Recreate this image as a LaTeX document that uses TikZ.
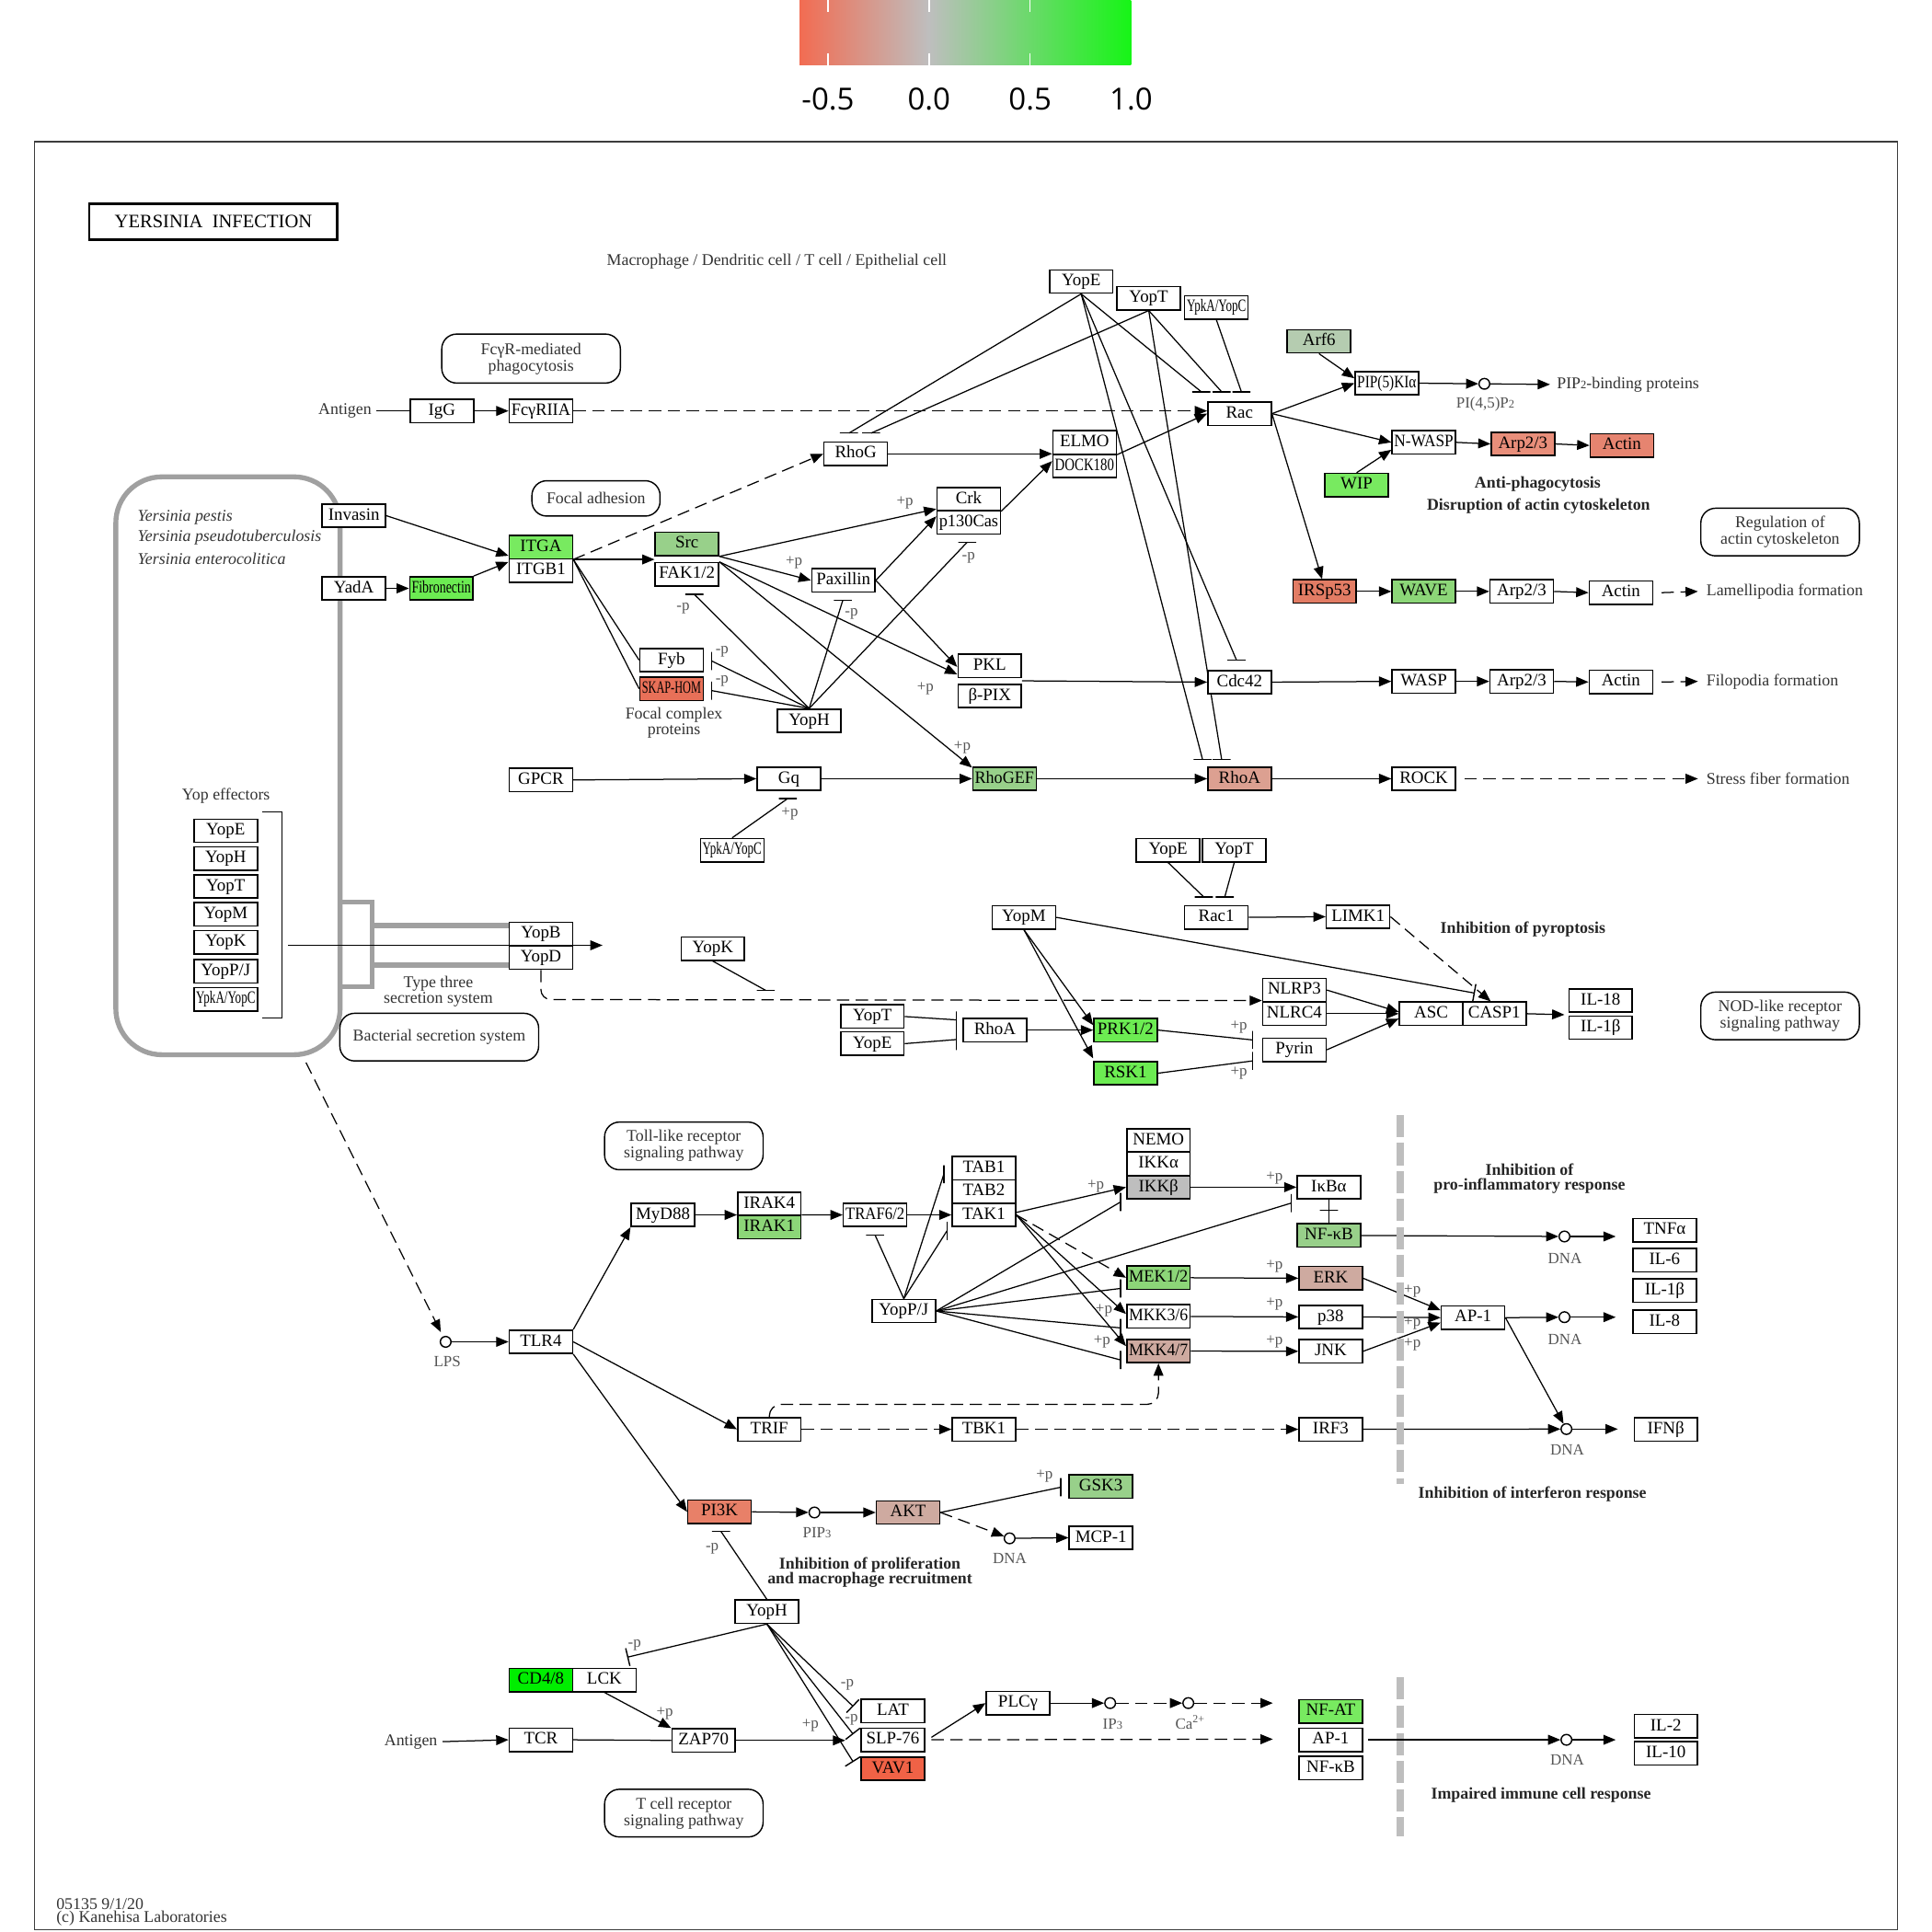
\documentclass[tikz,border=0pt]{standalone}
\usepackage{fontspec}
\setmainfont{Liberation Serif}
\newfontfamily\cbfont{Open Sans}
\usepackage{graphicx}
\usetikzlibrary{arrows.meta,calc}

% colour scale and node fills
\definecolor{cbLow}{RGB}{242,108,82}
\definecolor{cbMid}{RGB}{190,190,190}
\definecolor{cbHigh}{RGB}{22,245,22}
\definecolor{cSkap}{RGB}{232,112,88}
\definecolor{cVav}{RGB}{240,98,70}
\definecolor{cPi3k}{RGB}{232,128,104}
\definecolor{cIrs}{RGB}{226,124,100}
\definecolor{cArp}{RGB}{232,142,122}
\definecolor{cActin}{RGB}{230,132,112}
\definecolor{cRhoA}{RGB}{220,160,145}
\definecolor{cBrown}{RGB}{206,170,160}
\definecolor{cGrey}{RGB}{190,190,190}
\definecolor{cArf}{RGB}{181,204,176}
\definecolor{cMid}{RGB}{152,208,138}
\definecolor{cWave}{RGB}{140,214,120}
\definecolor{cLime}{RGB}{120,234,96}
\definecolor{cLime2}{RGB}{108,236,82}
\definecolor{cBright}{RGB}{0,238,0}
\definecolor{frameC}{RGB}{60,60,60}
\definecolor{shellC}{RGB}{160,160,160}
\definecolor{noteC}{RGB}{85,85,85}
\definecolor{sepC}{RGB}{190,190,190}

% squeeze long labels into the fixed-width gene boxes
\newsavebox\labbox
\newcommand\fitlab[1]{\sbox\labbox{#1}\ifdim\wd\labbox>36pt\resizebox{36pt}{\ht\labbox}{\usebox\labbox}\else\usebox\labbox\fi}
\newcommand\gene[4][white]{\node[gbox,fill=#1] (#2) at (#3) {\fitlab{#4}};}
\newcommand\smalldig[1]{{\fontsize{7}{7}\selectfont #1}}

\tikzset{
  gbox/.style={draw,line width=0.85pt,minimum width=38.6pt,minimum height=14.2pt,inner sep=0pt,
    text height=7.4pt,text depth=2.2pt,font=\fontsize{10.6}{10.6}\selectfont},
  mapbox/.style={draw,line width=0.8pt,rounded corners=9pt,align=center,inner sep=0pt,
    font=\fontsize{10}{9}\selectfont,text=black!80},
  cmpd/.style={circle,draw,line width=0.8pt,minimum size=6.5pt,inner sep=0pt,fill=white},
  ln/.style={line width=0.7pt},
  arr/.style={line width=0.7pt,-{Triangle[length=7.5pt,width=6pt]}},
  inh/.style={line width=0.7pt,-{Bar[width=11pt,line width=0.8pt]}},
  dsh/.style={dash pattern=on 7.5pt off 4pt},
  hbar/.style={draw,line width=0.8pt,minimum width=11pt,minimum height=0pt,inner sep=0pt},
  vbar/.style={draw,line width=0.8pt,minimum width=0pt,minimum height=11pt,inner sep=0pt},
  note/.style={font=\fontsize{9.5}{9.5}\selectfont,text=noteC,inner sep=0pt},
  lab/.style={font=\fontsize{10}{10}\selectfont,text=black!80,inner sep=0pt},
  head/.style={font=\bfseries\fontsize{10}{9.2}\selectfont,text=black!85,align=center,inner sep=0pt},
  sep/.style={sepC,line width=4.5pt,dash pattern=on 13.5pt off 3.5pt},
  shell/.style={shellC,line width=3pt},
}

\begin{document}
\begin{tikzpicture}[x=0.75pt,y=-0.75pt]
\useasboundingbox (0,0) rectangle (1568,1568);

% ---------------- colour scale ----------------
\shade[left color=cbLow,right color=cbMid] (649,0) rectangle (754,53);
\shade[left color=cbMid,right color=cbHigh] (754,0) rectangle (918,53);
\foreach \t in {672,754,836} {\draw[white,line width=0.8pt] (\t,0) -- (\t,10) (\t,43) -- (\t,53);}
\foreach \t/\v/\n in {672/-0.5/a,754/0.0/b,836/0.5/c,918/1.0/d}
  {\node[font=\cbfont\fontsize{18.5}{18.5}\selectfont,inner sep=0pt] (scale\n) at (\t,80.5) {\v};}

% ---------------- frame and title ----------------
\draw[line width=0.9pt,frameC] (28,115) rectangle (1540,1566);
\node[draw,line width=1.5pt,minimum width=151pt,minimum height=22pt,inner sep=0pt,
  font=\fontsize{11.5}{11.5}\selectfont] (title) at (173.2,180) {YERSINIA\ \ INFECTION};
\node[lab] (celltype) at (630.5,212) {Macrophage / Dendritic cell / T cell / Epithelial cell};

% ---------------- bacterium and effectors ----------------
\draw[shell,rounded corners=28pt] (94,387) rectangle (276,856);
\draw[shell] (276,732) -- (302,732) -- (302,801) -- (276,801);
\draw[shell] (302,751.2) -- (413,751.2);
\draw[shell] (302,783.2) -- (413,783.2);
\node[lab,anchor=west,font=\itshape\fontsize{10}{10}\selectfont] (sp1) at (111.5,419.7) {Yersinia pestis};
\node[lab,anchor=west,font=\itshape\fontsize{10}{10}\selectfont] (sp2) at (111.5,436.5) {Yersinia pseudotuberculosis};
\node[lab,anchor=west,font=\itshape\fontsize{10}{10}\selectfont] (sp3) at (111.5,453.3) {Yersinia enterocolitica};
\node[lab] (yopeff) at (183.4,646) {Yop effectors};
\gene{efE}{183.2,674.2}{YopE}
\gene{efH}{183.2,696.8}{YopH}
\gene{efT}{183.2,719.4}{YopT}
\gene{efM}{183.2,742}{YopM}
\gene{efK}{183.2,764.8}{YopK}
\gene{efP}{183.2,788.2}{YopP/J}
\gene{efY}{183.2,811}{YpkA/YopC}
\draw[ln] (213,659.2) -- (229,659.2) -- (229,826.4) -- (213,826.4);
\gene{yopb}{439,758.1}{YopB}
\gene{yopd}{439,777.2}{YopD}
\coordinate (effFrom) at (234,767.2);
\coordinate (effTo) at (489,767.2);
\draw[arr] (effFrom) -- (effTo);
\node[lab,align=center,font=\fontsize{10}{9.5}\selectfont] (t3ss) at (355.7,804.5) {Type three\\secretion system};
\node[mapbox,minimum width=121pt,minimum height=29pt] (bssmap) at (356.5,841.7) {Bacterial secretion system};

% ---------------- Fc receptor / Rac branch ----------------
\node[mapbox,minimum width=108.7pt,minimum height=29.8pt] (fcgrmap) at (431,291) {FcγR-mediated\\phagocytosis};
\node[lab,inner xsep=3pt] (antigenA) at (280,333.5) {Antigen};
\gene{igg}{358.7,333.5}{IgG}
\gene{fcgr}{439,333.5}{FcγRIIA}
\gene{yopeA}{877.5,228.5}{YopE}
\gene{yoptA}{932.3,242}{YopT}
\gene{ypkaA}{987.2,249.5}{YpkA/YopC}
\gene{rac}{1006,335.7}{Rac}
\gene{rhog}{694.5,368.3}{RhoG}
\gene{elmo}{880.2,359}{ELMO}
\gene{dock}{880.2,378.2}{DOCK180}
\gene{crk}{786.2,405}{Crk}
\gene{p130}{786.2,424}{p130Cas}
\gene[cArf]{arf6}{1070.5,277}{Arf6}
\gene{pip5k}{1125.5,311}{PIP(5)KIα}
\node[cmpd] (pip2) at (1204.7,311.5) {};
\node[note] (pip2lab) at (1205.5,328) {PI(4,5)P\smalldig{2}};
\node[lab,anchor=west,inner xsep=4pt] (pipbind) at (1258,312) {PIP\smalldig{2}-binding proteins};
\gene{nwasp}{1155.5,359}{N-WASP}
\gene[cArp]{arp23a}{1236,360.3}{Arp2/3}
\gene[cActin]{actinA}{1316.3,361.5}{Actin}
\gene[cLime]{wip}{1101,393.7}{WIP}
\node[head] (antiph) at (1248,393) {Anti-phagocytosis};
\node[head] (disrupt) at (1248.7,410.7) {Disruption of actin cytoskeleton};
\node[mapbox,minimum width=96.5pt,minimum height=29pt] (regact) at (1444.7,431.8) {Regulation of\\actin cytoskeleton};

\node[hbar] (bRhoG1) at (689,351.5) {};
\node[hbar] (bRhoG2) at (707,351.5) {};
\node[hbar] (bRac1) at (975,318) {};
\node[hbar] (bRac2) at (991.5,318) {};
\node[hbar] (bRac3) at (1007.5,318) {};
\node[hbar] (bCdc) at (1003.5,535.7) {};
\node[hbar] (bRhoA1) at (976,616.5) {};
\node[hbar] (bRhoA2) at (991.5,616.5) {};

\draw[ln] (antigenA.east) -- (igg.west);
\draw[arr] (igg.east) -- (fcgr.west);
\draw[arr,dsh] (fcgr.east) -- (fcgr.east -| rac.west);
\draw[ln] (yopeA.south) -- (bRhoG1.center);
\draw[ln] (yoptA.south) -- (bRhoG2.center);
\draw[ln] (yopeA.south) -- (bRac1.center);
\draw[ln] (yoptA.south) -- (bRac2.center);
\draw[ln] (ypkaA.south) -- (bRac3.center);
\draw[ln] (yopeA.south) -- (bRhoA1.center);
\draw[ln] (yopeA.south) -- (bCdc.center);
\draw[ln] (yoptA.south) -- (bRhoA2.center);
\draw[arr] (rhog.east) -- (rhog.east -| elmo.west);
\draw[arr] (crk.south east) -- ($(dock.west)+(0,-4)$);
\draw[arr] (elmo.south east) -- (rac.west);
\draw[arr] (rac.east) -- (pip5k.west);
\draw[arr] (arf6.south) -- ($(pip5k.west)+(0,-4)$);
\draw[arr] (pip5k.east) -- (pip2);
\draw[arr] (pip2) -- (pipbind.west);
\draw[arr] (rac.east) -- (nwasp.west);
\draw[arr] (wip.north) -- ($(nwasp.south west)+(0,-4)$);
\draw[arr] (nwasp.east) -- (arp23a.west);
\draw[arr] (arp23a.east) -- (actinA.west);

% ---------------- actin outputs ----------------
\gene[cIrs]{irsp53}{1075,480}{IRSp53}
\gene[cWave]{wave}{1155.5,480}{WAVE}
\gene{arp23b}{1235,480}{Arp2/3}
\gene{actinB}{1315.5,481}{Actin}
\node[lab,anchor=west,inner xsep=5pt] (lamel) at (1378,480) {Lamellipodia formation};
\draw[arr] (rac.east) -- ($(irsp53.north)+(-2,0)$);
\draw[arr] (irsp53.east) -- (wave.west);
\draw[arr] (wave.east) -- (arp23b.west);
\draw[arr] (arp23b.east) -- (actinB.west);
\draw[arr,dsh] ([xshift=5pt]actinB.east) -- (lamel.west);

\gene{pkl}{803.2,540.3}{PKL}
\gene{bpix}{803.2,564.8}{β-PIX}
\gene{cdc42}{1006,553.6}{Cdc42}
\gene{wasp}{1155.5,553}{WASP}
\gene{arp23c}{1235,553}{Arp2/3}
\gene{actinC}{1315.5,553.5}{Actin}
\node[lab,anchor=west,inner xsep=5pt] (filo) at (1378,553) {Filopodia formation};
\draw[arr] ($(pkl.south east)!0.5!(bpix.north east)$) -- (cdc42.west);
\draw[arr] (cdc42.east) -- (wasp.west);
\draw[arr] (wasp.east) -- (arp23c.west);
\draw[arr] (arp23c.east) -- (actinC.west);
\draw[arr,dsh] ([xshift=5pt]actinC.east) -- (filo.west);

\gene{gpcr}{439,633}{GPCR}
\gene{gq}{640.2,632}{Gq}
\gene[cMid]{rhogef}{815.2,632}{RhoGEF}
\gene[cRhoA]{rhoa}{1006,632}{RhoA}
\gene{rock}{1155.5,632}{ROCK}
\node[lab,anchor=west,inner xsep=5pt] (stress) at (1378,632) {Stress fiber formation};
\draw[arr] (gpcr.east) -- (gq.west);
\draw[arr] (gq.east) -- (rhogef.west);
\draw[arr] (rhogef.east) -- (rhoa.west);
\draw[arr] (rhoa.east) -- (rock.west);
\draw[arr,dsh] ([xshift=5pt]rock.east) -- (stress.west);
\gene{ypkaB}{594.2,690}{YpkA/YopC}
\node[hbar] (bGq) at (639.4,648) {};
\draw[ln] (ypkaB.north) -- (bGq.center);
\node[note] (pGq) at (641,660.6) {+p};

% ---------------- focal adhesion ----------------
\node[mapbox,minimum width=78pt,minimum height=21.5pt] (focadh) at (483.7,404.5) {Focal adhesion};
\gene{invasin}{287.2,418.5}{Invasin}
\gene{yada}{287.2,477.5}{YadA}
\gene[cLime2]{fibro}{358.2,477.5}{Fibronectin}
\gene[cLime]{itga}{439,444}{ITGA}
\gene{itgb1}{439,463}{ITGB1}
\gene[cMid]{src}{557.5,441.5}{Src}
\gene{fak}{557.5,466}{FAK1/2}
\gene{paxillin}{684.5,471}{Paxillin}
\gene{fyb}{545,535.7}{Fyb}
\gene[cSkap]{skap}{545,559}{SKAP-HOM}
\node[lab,align=center,font=\fontsize{10}{9.5}\selectfont] (fcp) at (547,586.5) {Focal complex\\proteins};
\gene{yophA}{656.7,585}{YopH}

\draw[arr] (invasin.east) -- ($(itga.south west)+(0,-3)$);
\draw[arr] (yada.east) -- (fibro.west);
\draw[arr] (fibro.north east) -- ($(itga.south west)+(0,2)$);
\draw[arr] (itga.south east) -- (itga.south east -| src.west);
\draw[arr,dsh] (itga.south east) -- (rhog.west);
\draw[ln] (itga.south east) -- (fyb.west);
\draw[ln] (itga.south east) -- (skap.west);
\draw[arr] (src.south east) -- ($(crk.south west)+(0,-2)$);
\draw[arr] (src.south east) -- (paxillin.west);
\draw[arr] (paxillin.east) -- ($(crk.south west)+(0,4)$);
\draw[arr] (fak.north east) -- ($(pkl.west)+(0,7)$);
\draw[arr] (paxillin.east) -- ($(pkl.west)+(0,1)$);
\draw[arr] (fak.north east) -- ($(rhogef.north west)+(0,1)$);

\node[hbar] (bFak) at (563.5,482.4) {};
\node[hbar] (bPax) at (684,487.2) {};
\node[hbar] (bP130) at (785,440) {};
\node[vbar] (bFyb) at (577.7,536.5) {};
\node[vbar] (bSkap) at (577.7,560.5) {};
\draw[ln] (yophA.north) -- (bFak.center);
\draw[ln] (yophA.north) -- (bPax.center);
\draw[ln] (yophA.north) -- (bP130.center);
\draw[ln] (yophA.north) -- (bFyb.center);
\draw[ln] (yophA.north) -- (bSkap.center);

\node[note] (pCrk) at (734.4,408) {+p};
\node[note] (pPax) at (644.4,456.5) {+p};
\node[note] (pPkl) at (751,559) {+p};
\node[note] (pGef) at (781,606.5) {+p};
\node[note] (mFak) at (554.4,494) {-p};
\node[note] (mPax) at (691,498) {-p};
\node[note] (mP130) at (786,452.5) {-p};
\node[note] (mFyb) at (586,528.5) {-p};
\node[note] (mSkap) at (586,553) {-p};

% ---------------- pyroptosis ----------------
\gene{yopeB}{948,690}{YopE}
\gene{yoptB}{1001.7,690}{YopT}
\gene{rac1}{987.2,744.5}{Rac1}
\gene{limk1}{1102.2,744}{LIMK1}
\node[hbar] (bRac1a) at (977,728) {};
\node[hbar] (bRac1b) at (994,728) {};
\draw[ln] (yopeB.south) -- (bRac1a.center);
\draw[ln] (yoptB.south) -- (bRac1b.center);
\draw[arr] (rac1.east) -- (limk1.west);
\node[head] (pyro) at (1236,754) {Inhibition of pyroptosis};
\gene{yopm}{831,744.5}{YopM}
\gene{yopk}{578.5,770}{YopK}
\node[hbar] (bYopK) at (621.5,803.8) {};
\draw[ln] (yopk.south) -- (bYopK.center);

\gene{nlrp3}{1050.5,803.5}{NLRP3}
\gene{nlrc4}{1050.5,822.7}{NLRC4}
\gene{pyrin}{1050.5,852}{Pyrin}
\gene{asc}{1161.5,822.7}{ASC}
\gene{casp1}{1212.8,822.7}{CASP1}
\gene{il18}{1299,812}{IL-18}
\gene{ilbA}{1299,834}{IL-1β}
\node[mapbox,minimum width=96.5pt,minimum height=29pt] (nodmap) at (1444.7,824.5) {NOD-like receptor\\signaling pathway};
\draw[arr,dsh,rounded corners=6pt] (yopd.south) -- (yopd.south |- 0,811.2) -- ($(nlrp3.south west)+(0,-1.5)$);
\draw[arr] (nlrp3.east) -- ($(asc.west)+(0,-1.5)$);
\draw[arr] (nlrc4.east) -- (asc.west);
\draw[arr] (pyrin.east) -- ($(asc.west)+(0,4)$);
\draw[arr] (casp1.east) -- ($(il18.south west)+(-3,1.5)$);
\draw[arr,dsh] (limk1.east) -- ($(casp1.north)+(-3,0)$);
\coordinate (yopmEnd) at (1197,806);
\draw[inh] (yopm.east) -- (yopmEnd);

\gene{yoptC}{708,825}{YopT}
\gene{yopeC}{708,847}{YopE}
\gene{rhoaB}{807.5,836}{RhoA}
\node[vbar,minimum height=23.5pt] (bRhoAB) at (776,836.6) {};
\coordinate (bRhoABt) at (776,827.7);
\coordinate (bRhoABe) at (776,843.7);
\draw[ln] (yoptC.east) -- (bRhoABt);
\draw[ln] (yopeC.east) -- (bRhoABe);
\gene[cLime2]{prk}{913.5,836}{PRK1/2}
\gene[cLime2]{rsk1}{913.5,871}{RSK1}
\draw[arr] (rhoaB.east) -- (prk.west);
\draw[arr] (yopm.south) -- ($(prk.west)+(0,-4)$);
\draw[arr] (yopm.south) -- ($(rsk1.north west)+(0,-2)$);
\node[vbar] (bPy1) at (1016.7,844) {};
\node[vbar] (bPy2) at (1016.7,861) {};
\draw[ln] (prk.east) -- (bPy1.center);
\draw[ln] (rsk1.east) -- (bPy2.center);
\node[note] (pPrk) at (1005.4,834) {+p};
\node[note] (pRsk) at (1005.4,871) {+p};

% ---------------- Toll-like receptor branch ----------------
\coordinate (shellOut) at (248.4,862.4);
\node[cmpd] (lps) at (361.7,1089) {};
\node[note] (lpslab) at (363,1105) {LPS};
\gene{tlr4}{439,1089}{TLR4}
\draw[arr,dsh,shorten >=3pt] (shellOut) -- (lps);
\draw[arr] (lps) -- (tlr4.west);
\node[mapbox,minimum width=96.5pt,minimum height=29pt] (tlrmap) at (555,930) {Toll-like receptor\\signaling pathway};

\gene{myd88}{538,986}{MyD88}
\gene{irak4}{624.4,977}{IRAK4}
\gene[cWave]{irak1}{624.4,996}{IRAK1}
\gene{traf6}{710.2,986}{TRAF6/2}
\gene{tab1}{798.5,948}{TAB1}
\gene{tab2}{798.5,967}{TAB2}
\gene{tak1}{798.5,986}{TAK1}
\gene{nemo}{940.2,925.5}{NEMO}
\gene{ikka}{940.2,944.5}{IKKα}
\gene[cGrey]{ikkb}{940.2,963.5}{IKKβ}
\gene{ikba}{1078.5,963.5}{IκBα}
\gene[cMid]{nfkbA}{1078.5,1002.7}{NF-κB}
\gene[cWave]{mek}{940.2,1037}{MEK1/2}
\gene{mkk36}{940.2,1068.4}{MKK3/6}
\gene[cBrown]{mkk47}{940.2,1096.5}{MKK4/7}
\gene[cBrown]{erk}{1080,1037.4}{ERK}
\gene{p38}{1080,1068.8}{p38}
\gene{jnk}{1080,1096.7}{JNK}
\gene{ap1A}{1195.5,1069.4}{AP-1}
\gene{yoppj}{733.5,1064}{YopP/J}
\gene{tnfa}{1351,998.4}{TNFα}
\gene{il6}{1351,1022.8}{IL-6}
\gene{ilbB}{1351,1047.5}{IL-1β}
\gene{il8}{1351,1072.8}{IL-8}
\node[cmpd] (dnaA) at (1269.7,1003.5) {};
\node[cmpd] (dnaB) at (1269.7,1069) {};
\node[cmpd] (dnaC) at (1271.3,1159.8) {};
\node[note] (dnaAlab) at (1270,1021) {DNA};
\node[note] (dnaBlab) at (1270,1087) {DNA};
\node[note] (dnaClab) at (1272,1177) {DNA};
\coordinate (outA) at (1311.3,1003.5);
\coordinate (outB) at (1311.3,1069);
\coordinate (outC) at (1313,1159.8);
\gene{trif}{624.4,1160}{TRIF}
\gene{tbk1}{798.5,1160}{TBK1}
\gene{irf3}{1080,1160}{IRF3}
\gene{ifnb}{1352,1160}{IFNβ}

\draw[arr] (tlr4.north east) -- (myd88.south west);
\draw[arr] (tlr4.east) -- (trif.west);
\draw[arr] (myd88.east) -- (myd88.east -| irak4.west);
\draw[arr] (irak1.north east) -- (traf6.west);
\draw[arr] (traf6.east) -- (tak1.west);
\node[hbar] (bTraf) at (710.2,1002.4) {};
\node[vbar] (bTab1) at (766,953) {};
\node[vbar] (bTab2) at (768.5,999) {};
\draw[ln] (yoppj.north) -- (bTraf.center);
\draw[ln] (yoppj.north) -- (bTab1.center);
\draw[ln] (yoppj.north) -- (bTab2.center);
\draw[arr] ($(tak1.east)+(0,-2)$) -- (ikkb.west);
\draw[arr,dsh] (tak1.east) -- (mek.west);
\draw[arr] (tak1.east) -- ($(mkk36.west)+(0,-2)$);
\draw[arr] (tak1.east) -- ($(mkk47.west)+(0,-4)$);
\node[vbar] (bIkk) at (909.4,975.5) {};
\node[vbar] (bMek) at (909.4,1045.7) {};
\node[vbar] (bM36) at (909.4,1077.7) {};
\node[vbar] (bM47) at (909.4,1103.7) {};
\node[vbar] (bIkba) at (1048,976.4) {};
\draw[ln] (yoppj.east) -- (bIkk.center);
\draw[ln] (yoppj.east) -- (bIkba.center);
\draw[ln] (yoppj.east) -- (bMek.center);
\draw[ln] (yoppj.east) -- (bM36.center);
\draw[ln] (yoppj.east) -- (bM47.center);
\draw[arr] (ikkb.east) -- (ikba.west);
\draw[ln] (ikba.south) -- (nfkbA.north);
\node[hbar] (tIkba) at (1078.5,982.4) {};
\draw[arr] (mek.east) -- (erk.west);
\draw[arr] (mkk36.east) -- (p38.west);
\draw[arr] (mkk47.east) -- (jnk.west);
\draw[arr] (erk.east) -- ($(ap1A.west)+(0,-6)$);
\draw[arr] (p38.east) -- (ap1A.west);
\draw[arr] (jnk.east) -- ($(ap1A.west)+(0,4)$);
\draw[arr] (nfkbA.east) -- (dnaA);
\draw[arr] (dnaA) -- (outA);
\draw[arr] (ap1A.east) -- (dnaB);
\draw[arr] (dnaB) -- (outB);
\draw[arr] (ap1A.east) -- (dnaC);
\draw[arr] (irf3.east) -- (dnaC);
\draw[arr] (dnaC) -- (outC);
\draw[arr,dsh] (trif.east) -- (tbk1.west);
\draw[arr,dsh] (tbk1.east) -- (irf3.west);
\draw[arr,dsh,rounded corners=7pt] (trif.north) -- (trif.north |- 0,1139.8) -- (mkk47.south |- 0,1139.8) -- (mkk47.south);

\node[note] (pTak) at (889.4,963) {+p};
\node[note] (pIkb) at (1034.4,955.8) {+p};
\node[note] (pErk) at (1034.4,1027.8) {+p};
\node[note] (pP38) at (1034.4,1058.4) {+p};
\node[note] (pJnk) at (1034.4,1089) {+p};
\node[note] (pM36) at (896,1063.8) {+p};
\node[note] (pM47) at (894.4,1089) {+p};
\node[note] (pAp1a) at (1146.3,1047.8) {+p};
\node[note] (pAp1b) at (1146.3,1074.4) {+p};
\node[note] (pAp1c) at (1146.3,1091.2) {+p};

\draw[sep] (1136.3,905) -- (1136.3,1204);
\draw[sep] (1136.3,1361.3) -- (1136.3,1490.4);
\node[head] (proinf) at (1241.3,956.4) {Inhibition of\\pro-inflammatory response};
\node[head] (interf) at (1243.7,1213) {Inhibition of interferon response};

% ---------------- PI3K branch ----------------
\gene[cPi3k]{pi3k}{584,1227}{PI3K}
\node[cmpd] (pip3) at (661,1227.5) {};
\node[note] (pip3lab) at (663,1244) {PIP\smalldig{3}};
\gene[cBrown]{akt}{737,1227.5}{AKT}
\gene[cMid]{gsk3}{893.5,1206.5}{GSK3}
\node[cmpd] (dnaD) at (819.4,1248.5) {};
\node[note] (dnaDlab) at (819.4,1265) {DNA};
\gene{mcp1}{893.5,1248}{MCP-1}
\draw[arr] (tlr4.south east) -- (pi3k.west);
\draw[arr] (pi3k.east) -- (pip3);
\draw[arr] (pip3) -- (akt.west);
\node[vbar] (bGsk) at (861,1207) {};
\draw[ln] (akt.east) -- (bGsk.center);
\node[note] (pGsk) at (847.7,1198) {+p};
\draw[arr,dsh] (akt.east) -- (dnaD);
\draw[arr] (dnaD) -- (mcp1.west);
\node[head] (prolif) at (706,1276) {Inhibition of proliferation\\and macrophage recruitment};

\gene{yophB}{622.4,1308}{YopH}
\node[hbar] (bPi3k) at (585.2,1243) {};
\draw[ln] (yophB.north) -- (bPi3k.center);
\node[note] (mPi3k) at (578,1256.5) {-p};

% ---------------- T cell receptor branch ----------------
\gene[cBright]{cd48}{439,1363.5}{CD4/8}
\gene{lck}{490.5,1363.5}{LCK}
\coordinate (cdIn) at (509,1345);
\draw[inh] (yophB.south) -- (cdIn);
\node[note] (mCd) at (515,1335) {-p};
\node[lab,inner xsep=3pt] (antigenB) at (333.5,1413.5) {Antigen};
\gene{tcr}{439,1412}{TCR}
\gene{zap70}{571,1412.5}{ZAP70}
\draw[arr] (lck.south) -- (zap70.north west);
\node[note] (pZap) at (539.5,1390.5) {+p};
\draw[arr] (antigenB.east) -- (tcr.west);
\draw[ln] (tcr.east) -- (zap70.west);
\gene{lat}{724.6,1388.7}{LAT}
\gene{slp76}{724.6,1412}{SLP-76}
\gene[cVav]{vav1}{724.6,1435.5}{VAV1}
\coordinate (zapIn) at (686,1412.5);
\draw[arr] (zap70.east) -- (zapIn);
\node[note] (pSlp) at (657.7,1400.7) {+p};
\coordinate (iLat) at (692.5,1385);
\coordinate (iSlp) at (692.5,1407.5);
\coordinate (iVav) at (692.5,1430);
\draw[inh] (yophB.south) -- (iLat);
\draw[inh] (yophB.south) -- (iSlp);
\draw[inh] (yophB.south) -- (iVav);
\node[note] (mLat) at (687.7,1367) {-p};
\node[note] (mSlp) at (691,1396) {-p};

\gene{plcg}{826.2,1382.2}{PLCγ}
\node[cmpd] (ip3) at (901,1382.2) {};
\node[note] (ip3lab) at (903,1399.5) {IP\smalldig{3}};
\node[cmpd] (ca) at (964.4,1382.2) {};
\node[note] (calab) at (966,1398) {Ca\textsuperscript{2+}};
\coordinate (nfatIn) at (1033,1382.2);
\coordinate (ap1In) at (1033,1411.5);
\draw[arr] ($(slp76.east)+(5,-2)$) -- (plcg.west);
\draw[arr] (plcg.east) -- (ip3);
\draw[arr,dsh] (ip3) -- (ca);
\draw[arr,dsh] (ca) -- (nfatIn);
\draw[arr,dsh] ($(slp76.east)+(5,0)$) -- (ap1In);
\gene[cLime]{nfat}{1080,1389}{NF-AT}
\gene{ap1B}{1080,1412}{AP-1}
\gene{nfkbB}{1080,1435}{NF-κB}
\node[cmpd] (dnaE) at (1271.3,1412) {};
\node[note] (dnaElab) at (1272,1428.5) {DNA};
\coordinate (outE) at (1311.3,1412);
\draw[arr] ([xshift=3pt]ap1B.east) -- (dnaE);
\draw[arr] (dnaE) -- (outE);
\gene{il2}{1352,1401}{IL-2}
\gene{il10}{1352,1423}{IL-10}
\node[head] (impaired) at (1250.7,1457.2) {Impaired immune cell response};
\node[mapbox,minimum width=96.5pt,minimum height=29pt] (tcrmap) at (555,1471.5) {T cell receptor\\signaling pathway};

% ---------------- footer ----------------
\node[lab,anchor=west] (ver) at (45.5,1545) {05135 9/1/20};
\node[lab,anchor=west] (copy) at (45.5,1557) {(c) Kanehisa Laboratories};
\end{tikzpicture}
\end{document}
